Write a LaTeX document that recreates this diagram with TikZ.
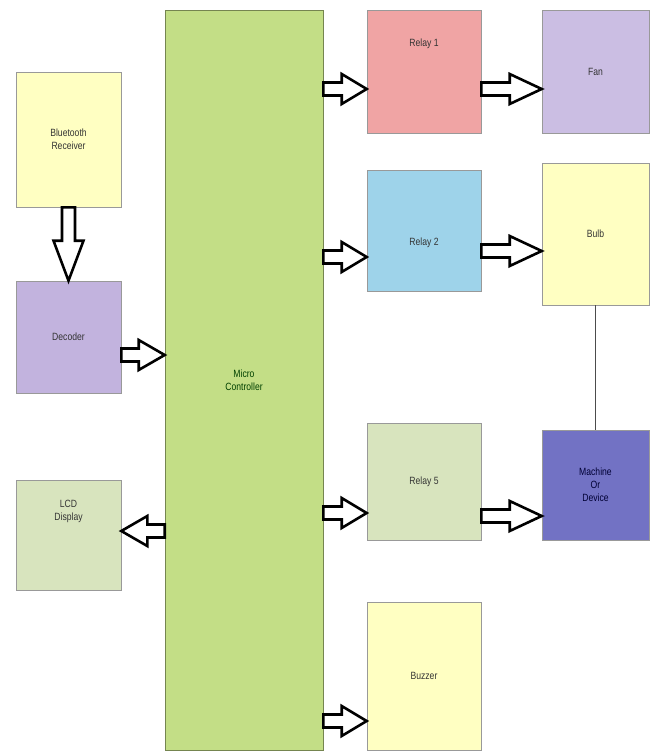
\documentclass[tikz,border=0pt]{standalone}
\usepackage{fontspec}
\setmainfont[FakeStretch=0.82]{Liberation Sans}
\usetikzlibrary{calc}

\definecolor{paleyellow}{HTML}{FFFFC2}
\definecolor{lavender}{HTML}{C2B3DE}
\definecolor{palegreen}{HTML}{D8E4BE}
\definecolor{mcgreen}{HTML}{C3DE86}
\definecolor{relayred}{HTML}{F0A4A4}
\definecolor{relayblue}{HTML}{9ED3EA}
\definecolor{deviceblue}{HTML}{7272C4}

\begin{document}
\begin{tikzpicture}[x=1pt, y=-1pt, font=\fontsize{10.5}{13}\selectfont,
    blockarrow/.style={draw=black, line width=2.6pt, fill=white, line join=miter,
      to path={
        ($(\tikztotarget)!#1!(\tikztostart)$) coordinate (headbase)
        ($(\tikztostart)!6.5pt!90:(\tikztotarget)$)
        -- ($(headbase)!6.5pt!90:(\tikztotarget)$)
        -- ($(headbase)!15pt!90:(\tikztotarget)$)
        -- (\tikztotarget)
        -- ($(headbase)!15pt!-90:(\tikztotarget)$)
        -- ($(headbase)!6.5pt!-90:(\tikztotarget)$)
        -- ($(\tikztostart)!6.5pt!-90:(\tikztotarget)$) -- cycle}},
    blockarrow/.default=28pt]
  \tikzstyle{blk}=[draw=black!40, line width=0.6pt, text=black!80, align=center, inner sep=0pt]

  \useasboundingbox (0,0) rectangle (649,753);

  % left column
  \node[blk, fill=paleyellow, minimum width=105pt, minimum height=135pt] (bt) at (68.5,139.5) {Bluetooth\\Receiver};
  \node[blk, fill=lavender, minimum width=105pt, minimum height=112pt] (dec) at (68.5,337) {Decoder};
  \node[blk, fill=palegreen, minimum width=105pt, minimum height=110pt, text depth=50pt] (lcd) at (68.5,535) {LCD\\Display};

  % controller
  \node[blk, fill=mcgreen, draw=mcgreen!60!black, text=green!25!black, minimum width=158pt, minimum height=740pt] (mc) at (244,380) {Micro\\Controller};

  % relays
  \node[blk, fill=relayred, minimum width=114pt, minimum height=123pt, text depth=58pt] (r1) at (424,71.5) {Relay 1};
  \node[blk, fill=relayblue, minimum width=114pt, minimum height=121pt, text height=32pt] (r2) at (424,230.5) {Relay 2};
  \node[blk, fill=palegreen, minimum width=114pt, minimum height=117pt] (r5) at (424,481.5) {Relay 5};
  \node[blk, fill=paleyellow, minimum width=114pt, minimum height=148pt] (buz) at (424,676) {Buzzer};

  % loads
  \node[blk, fill=lavender!85!white, minimum width=107pt, minimum height=123pt] (fan) at (595.5,71.5) {Fan};
  \node[blk, fill=paleyellow, minimum width=107pt, minimum height=142pt] (bulb) at (595.5,234) {Bulb};
  \node[blk, fill=deviceblue, text=blue!20!black, minimum width=107pt, minimum height=110pt] (mach) at (595.5,485) {Machine\\Or\\Device};

  % arrow ends
  \coordinate (r1in) at ([yshift=-17.5pt]r1.west);
  \coordinate (fanin) at (fan.west |- r1in);
  \coordinate (r2in) at ([yshift=-26.5pt]r2.west);
  \coordinate (bulbin) at ([yshift=-17pt]bulb.west);
  \coordinate (r5in) at ([yshift=-31.5pt]r5.west);
  \coordinate (machin) at ([yshift=-31pt]mach.west);
  \coordinate (buzin) at ([yshift=-45pt]buz.west);
  \coordinate (decout) at ([yshift=-18pt]dec.east);
  \coordinate (lcdin) at ([yshift=4pt]lcd.east);

  % block arrows
  \draw[blockarrow=40pt] (bt.south) to (dec.north);
  \draw[blockarrow=26pt] (decout) to (mc.west |- decout);
  \draw[blockarrow=26pt] (mc.west |- lcdin) to (lcdin);
  \draw[blockarrow=25pt] (mc.east |- r1in) to (r1in);
  \draw[blockarrow=32pt] (r1.east |- fanin) to (fanin);
  \draw[blockarrow=25pt] (mc.east |- r2in) to (r2in);
  \draw[blockarrow=32pt] (r2.east |- bulbin) to (bulbin);
  \draw[blockarrow=25pt] (mc.east |- r5in) to (r5in);
  \draw[blockarrow=32pt] (r5.east |- machin) to (machin);
  \draw[blockarrow=25pt] (mc.east |- buzin) to (buzin);

  % bulb to machine
  \draw[black!70, line width=0.8pt] (bulb.south) -- (mach.north);
\end{tikzpicture}
\end{document}
